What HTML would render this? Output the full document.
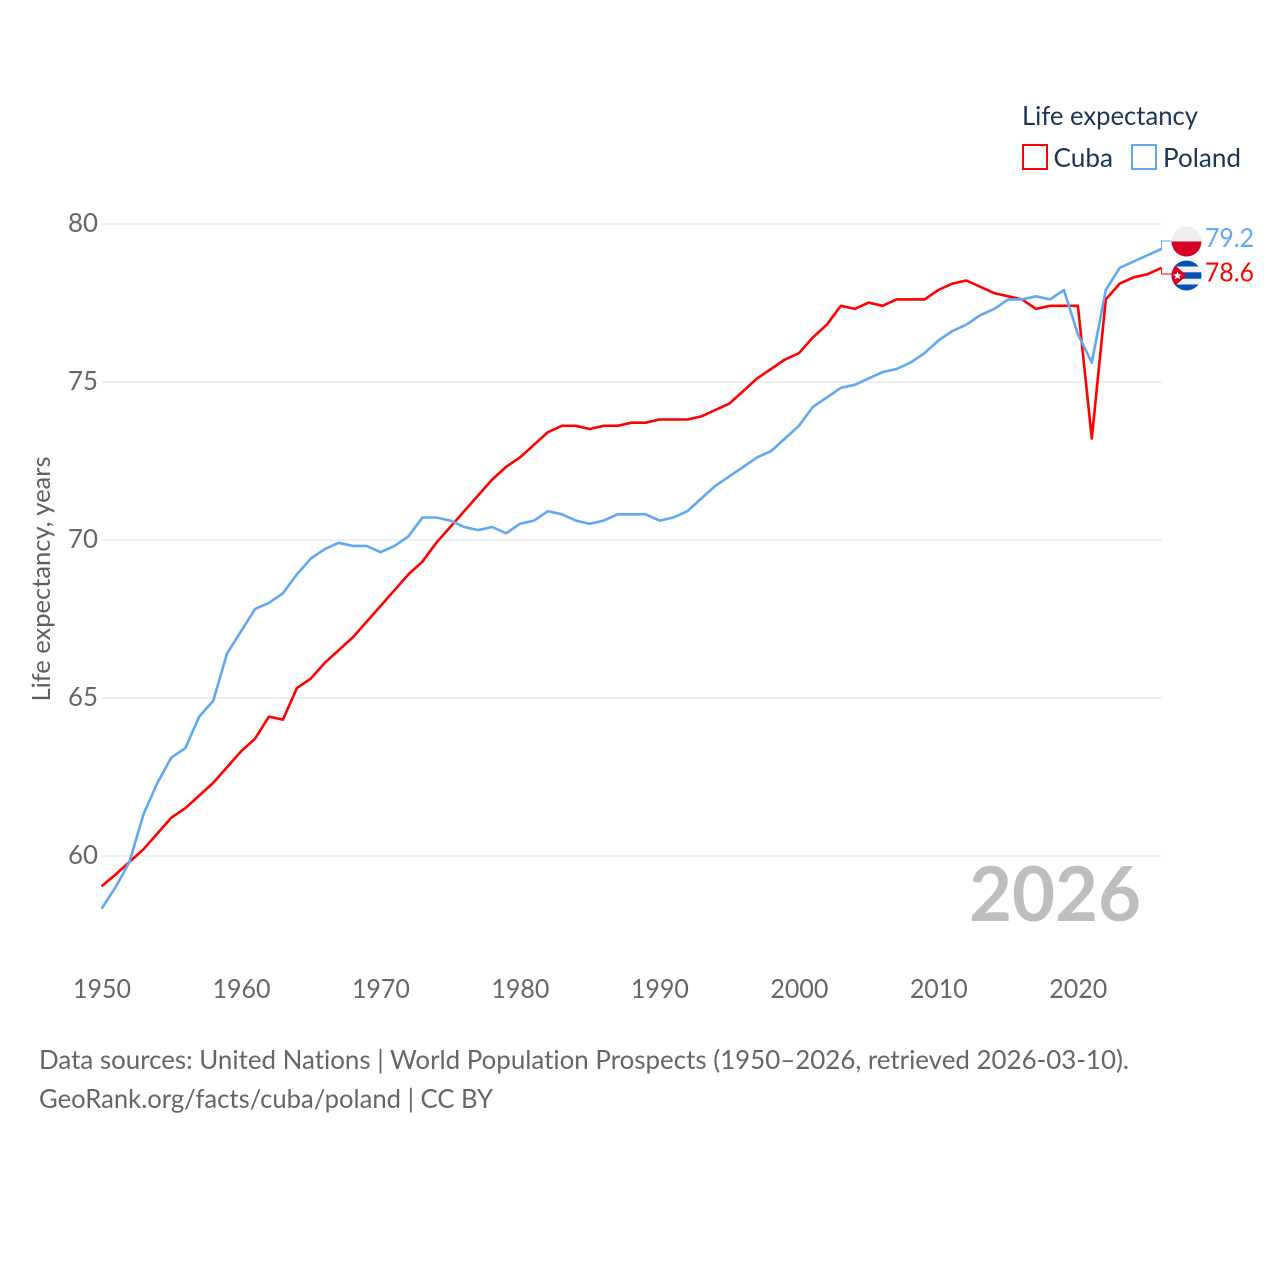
<!DOCTYPE html>
<html><head><meta charset="utf-8"><title>Life expectancy: Cuba and Poland</title>
<style>
html,body{margin:0;padding:0;background:#fff;width:1280px;height:1280px;overflow:hidden}
svg{display:block}
text{font-family:"Lato","Carlito","Liberation Sans",sans-serif;font-variant-ligatures:none}
</style></head>
<body>
<svg id="chart" width="1280" height="1280" viewBox="0 0 1280 1280" xmlns="http://www.w3.org/2000/svg">
<rect width="1280" height="1280" fill="#fff"/>
<g id="grid"></g>
<g id="yticks"></g>
<g id="xticks"></g>
<text transform="translate(50,579) rotate(-90)" text-anchor="middle" font-size="25.5" fill="#5f5f5f" textLength="245" lengthAdjust="spacingAndGlyphs">Life expectancy, years</text>
<text x="1141" y="921" text-anchor="end" font-size="76" font-weight="700" fill="#bebebe" textLength="172" lengthAdjust="spacingAndGlyphs">2026</text>
<g id="series"></g>
<g>
<text x="1022" y="125" font-size="26.5" fill="#1a3556" textLength="176" lengthAdjust="spacingAndGlyphs">Life expectancy</text>
<rect x="1023" y="145" width="24" height="24" fill="#fff" stroke="#ff0000" stroke-width="2"/>
<text x="1053.5" y="167" font-size="26.5" fill="#1a3556" textLength="59.5" lengthAdjust="spacingAndGlyphs">Cuba</text>
<rect x="1132" y="145" width="24" height="24" fill="#fff" stroke="#62a8f0" stroke-width="2"/>
<text x="1163" y="167" font-size="26.5" fill="#1a3556" textLength="78" lengthAdjust="spacingAndGlyphs">Poland</text>
</g>
<defs>
<clipPath id="clipPl"><circle cx="1186.5" cy="241.5" r="15"/></clipPath>
<clipPath id="clipCu"><circle cx="1186.5" cy="275.5" r="15"/></clipPath>
</defs>
<g clip-path="url(#clipPl)">
<rect x="1171" y="226" width="31" height="16" fill="#eeeeee"/>
<rect x="1171" y="241.5" width="31" height="16" fill="#d80027"/>
</g>
<g clip-path="url(#clipCu)">
<rect x="1171" y="260" width="31" height="31" fill="#f0f0f0"/>
<rect x="1171" y="260" width="31" height="6.5" fill="#0052b4"/>
<rect x="1171" y="272.3" width="31" height="6.4" fill="#0052b4"/>
<rect x="1171" y="284.5" width="31" height="7" fill="#0052b4"/>
<polygon points="1171,262 1187,275.5 1171,289" fill="#d80027"/>
<polygon points="1177.5,271.5 1178.7,274.4 1181.7,274.4 1179.3,276.3 1180.2,279.3 1177.5,277.6 1174.8,279.3 1175.7,276.3 1173.3,274.4 1176.3,274.4" fill="#fff"/>
</g>
<text id="valPl" x="1205" y="247" font-size="26.5" fill="#62a8f0" textLength="49" lengthAdjust="spacingAndGlyphs"></text>
<text id="valCu" x="1205" y="281.5" font-size="26.5" fill="#ff0000" textLength="49" lengthAdjust="spacingAndGlyphs"></text>
<text x="39" y="1069" font-size="26.2" fill="#666666" textLength="1090" lengthAdjust="spacingAndGlyphs">Data sources: United Nations | World Population Prospects (1950–2026, retrieved 2026-03-10).</text>
<text x="39" y="1108" font-size="26.2" fill="#666666" textLength="454" lengthAdjust="spacingAndGlyphs">GeoRank.org/facts/cuba/poland | CC BY</text>
</svg>
<script>
const firstYear = 1950;
const cubaValues = [59.03,59.4,59.8,60.2,60.7,61.2,61.5,61.9,62.3,62.8,63.3,63.7,64.4,64.3,65.3,65.6,66.1,66.5,66.9,67.4,67.9,68.4,68.9,69.3,69.9,70.4,70.9,71.4,71.9,72.3,72.6,73.0,73.4,73.6,73.6,73.5,73.6,73.6,73.7,73.7,73.8,73.8,73.8,73.9,74.1,74.3,74.7,75.1,75.4,75.7,75.9,76.4,76.8,77.4,77.3,77.5,77.4,77.6,77.6,77.6,77.9,78.1,78.2,78.0,77.8,77.7,77.6,77.3,77.4,77.4,77.4,73.2,77.6,78.1,78.3,78.4,78.6];
const polandValues = [58.32,59.0,59.8,61.3,62.3,63.1,63.4,64.4,64.9,66.4,67.1,67.8,68.0,68.3,68.9,69.4,69.7,69.9,69.8,69.8,69.6,69.8,70.1,70.7,70.7,70.6,70.4,70.3,70.4,70.2,70.5,70.6,70.9,70.8,70.6,70.5,70.6,70.8,70.8,70.8,70.6,70.7,70.9,71.3,71.7,72.0,72.3,72.6,72.8,73.2,73.6,74.2,74.5,74.8,74.9,75.1,75.3,75.4,75.6,75.9,76.3,76.6,76.8,77.1,77.3,77.6,77.6,77.7,77.6,77.9,76.5,75.6,77.9,78.6,78.8,79.0,79.2];
const yTicks = [60,65,70,75,80];
const xTicks = [1950,1960,1970,1980,1990,2000,2010,2020];

const NS = 'http://www.w3.org/2000/svg';
function xScale(year){ return 102 + (year - 1950) * 13.947; }
function yScale(v){ return 856 - (v - 60) * 31.6; }
function mk(tag, attrs, parent){
  const el = document.createElementNS(NS, tag);
  for (const k in attrs) el.setAttribute(k, attrs[k]);
  parent.appendChild(el);
  return el;
}
const grid = document.getElementById('grid');
const yG = document.getElementById('yticks');
const xG = document.getElementById('xticks');
const sG = document.getElementById('series');

yTicks.forEach(function(t){
  const line = mk('line', {x1:102, x2:1162, y1:yScale(t), y2:yScale(t), stroke:'#ececec', 'stroke-width':1.5}, grid);
  
  
  const lab = mk('text', {x:98, y:yScale(t) + 8, 'text-anchor':'end', 'font-size':26, fill:'#666666', textLength:30, lengthAdjust:'spacingAndGlyphs'}, yG);
  
  
  lab.textContent = t;
});
xTicks.forEach(function(t){
  const lab = mk('text', {x:xScale(t), y:998, 'text-anchor':'middle', 'font-size':26, fill:'#666666', textLength:58, lengthAdjust:'spacingAndGlyphs'}, xG);
  
  
  lab.textContent = t;
});
function drawLine(values, color, name){
  const pts = values.map(function(v, i){ return (xScale(firstYear + i) - 0.4).toFixed(1) + ',' + (yScale(v) - 0.4).toFixed(1); }).join(' ');
  const p = mk('polyline', {points:pts, fill:'none', stroke:color, 'stroke-width':2.6, 'stroke-linejoin':'round'}, sG);
  
  
}
drawLine(cubaValues, '#ff0000', 'line-cuba');
drawLine(polandValues, '#62a8f0', 'line-poland');

const lastYear = firstYear + cubaValues.length - 1;
const lastX = xScale(lastYear) - 0.4;
const cubaLast = cubaValues[cubaValues.length - 1];
const polandLast = polandValues[polandValues.length - 1];
const c1 = mk('polyline', {points:lastX + ',' + yScale(polandLast) + ' ' + lastX + ',241 1172,241', fill:'none', stroke:'#62a8f0', 'stroke-width':1}, sG);


const c2 = mk('polyline', {points:lastX + ',' + yScale(cubaLast) + ' ' + lastX + ',274 1172,274', fill:'none', stroke:'#ff0000', 'stroke-width':1}, sG);


document.getElementById('valPl').textContent = polandLast.toFixed(1);
document.getElementById('valCu').textContent = cubaLast.toFixed(1);
</script>
</body></html>
